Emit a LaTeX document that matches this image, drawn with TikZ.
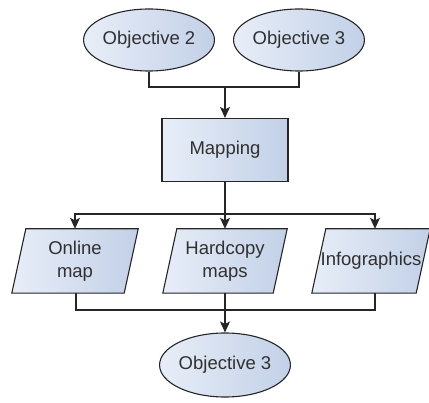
\documentclass[tikz,border=0pt]{standalone}
\usepackage{fontspec}
\setmainfont{Liberation Sans}
\usetikzlibrary{shapes.geometric,arrows.meta,backgrounds}
\definecolor{edge}{HTML}{262626}
\definecolor{ink}{HTML}{303030}
\definecolor{fillA}{HTML}{E8EEF8}
\definecolor{fillB}{HTML}{C2D0E7}
\begin{document}
\begin{tikzpicture}[x=1pt,y=-1pt,
  font=\fontsize{18.5}{23.5}\selectfont,
  shadebox/.style={draw=edge, line width=1.1pt, left color=fillA, right color=fillB},
  oval/.style={shadebox, ellipse, minimum width=126, minimum height=62, inner sep=0pt, text=ink},
  rect/.style={shadebox, rectangle, minimum width=126, minimum height=63, inner sep=0pt, text=ink},
  para/.style={rectangle, minimum height=64, inner sep=0pt, align=center, text=ink},
  link/.style={draw=edge, line width=1.1pt},
  arr/.style={link, -{Stealth[length=11pt,width=10pt,inset=2.5pt]}}]

\useasboundingbox (0,0) rectangle (429,403);

% objectives feeding the mapping step
\node[oval] (obj2) at (149,40) {Objective 2};
\node[oval] (obj3) at (299,40) {Objective 3};
\node[rect] (map) at (225,150) {Mapping};

% outputs of the mapping step
\node[para, minimum width=112] (online) at (75,261) {Online\\map};
\node[para, minimum width=110] (hard) at (225,261) {Hardcopy\\maps};
\node[para, minimum width=104] (info) at (371,261) {Infographics};

\node[oval, minimum height=64] (goal) at (225,365) {Objective 3};

% white page and parallelogram outlines behind the output labels
\begin{scope}[on background layer]
  \fill[white] (0,0) rectangle (429,403);
  \foreach \n in {online,hard,info}
    \path[shadebox] ([xshift=-7pt]\n.south west) -- ([xshift=-7pt]\n.south east)
      -- ([xshift=7pt]\n.north east) -- ([xshift=7pt]\n.north west) -- cycle;
\end{scope}

% junction points of the connectors
\coordinate (topjoin) at (225,87);
\coordinate (midjoin) at (225,214);
\coordinate (lowjoin) at (225,310);

\draw[link] (obj2.south) |- (topjoin);
\draw[link] (obj3.south) |- (topjoin);
\draw[arr] (topjoin) -- (map.north);

\draw[link] (map.south) -- (midjoin);
\draw[arr] (midjoin) -| (online.north);
\draw[arr] (midjoin) -- (hard.north);
\draw[arr] (midjoin) -| ([xshift=4pt]info.north);

\draw[link] ([xshift=1pt]online.south) |- (lowjoin);
\draw[link] ([xshift=4pt]info.south) |- (lowjoin);
\draw[arr] (hard.south) -- (goal.north);
\end{tikzpicture}
\end{document}
